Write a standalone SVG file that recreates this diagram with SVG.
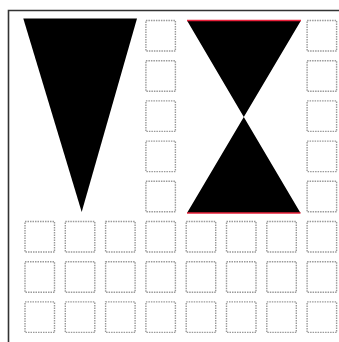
<svg xmlns="http://www.w3.org/2000/svg" width="339" height="342" viewBox="0 0 339 342">
<style>
.cell{fill:#fff;stroke:#999;stroke-width:1.4;stroke-dasharray:1.5,1}
.frame{fill:none;stroke:#333;stroke-width:1.6}
.shape{fill:#000;stroke:none}
.edge{stroke:#e8203a;stroke-width:1.6}
</style>
<rect width="339" height="342" fill="#fff"/>
<path class="frame" d="M8.5,342 V10.5 H339"/>
<g id="cells">
<rect class="cell" x="145.9" y="20.5" width="29.5" height="30.5"/>
<rect class="cell" x="145.9" y="60.7" width="29.5" height="30.5"/>
<rect class="cell" x="145.9" y="100.9" width="29.5" height="30.5"/>
<rect class="cell" x="145.9" y="141.1" width="29.5" height="30.5"/>
<rect class="cell" x="145.9" y="181.3" width="29.5" height="30.5"/>
<rect class="cell" x="307.1" y="20.5" width="29.5" height="30.5"/>
<rect class="cell" x="307.1" y="60.7" width="29.5" height="30.5"/>
<rect class="cell" x="307.1" y="100.9" width="29.5" height="30.5"/>
<rect class="cell" x="307.1" y="141.1" width="29.5" height="30.5"/>
<rect class="cell" x="307.1" y="181.3" width="29.5" height="30.5"/>
<rect class="cell" x="25" y="221.5" width="29.5" height="30.5"/>
<rect class="cell" x="65.3" y="221.5" width="29.5" height="30.5"/>
<rect class="cell" x="105.6" y="221.5" width="29.5" height="30.5"/>
<rect class="cell" x="145.9" y="221.5" width="29.5" height="30.5"/>
<rect class="cell" x="186.2" y="221.5" width="29.5" height="30.5"/>
<rect class="cell" x="226.5" y="221.5" width="29.5" height="30.5"/>
<rect class="cell" x="266.8" y="221.5" width="29.5" height="30.5"/>
<rect class="cell" x="307.1" y="221.5" width="29.5" height="30.5"/>
<rect class="cell" x="25" y="261.7" width="29.5" height="30.5"/>
<rect class="cell" x="65.3" y="261.7" width="29.5" height="30.5"/>
<rect class="cell" x="105.6" y="261.7" width="29.5" height="30.5"/>
<rect class="cell" x="145.9" y="261.7" width="29.5" height="30.5"/>
<rect class="cell" x="186.2" y="261.7" width="29.5" height="30.5"/>
<rect class="cell" x="226.5" y="261.7" width="29.5" height="30.5"/>
<rect class="cell" x="266.8" y="261.7" width="29.5" height="30.5"/>
<rect class="cell" x="307.1" y="261.7" width="29.5" height="30.5"/>
<rect class="cell" x="25" y="301.9" width="29.5" height="30.5"/>
<rect class="cell" x="65.3" y="301.9" width="29.5" height="30.5"/>
<rect class="cell" x="105.6" y="301.9" width="29.5" height="30.5"/>
<rect class="cell" x="145.9" y="301.9" width="29.5" height="30.5"/>
<rect class="cell" x="186.2" y="301.9" width="29.5" height="30.5"/>
<rect class="cell" x="226.5" y="301.9" width="29.5" height="30.5"/>
<rect class="cell" x="266.8" y="301.9" width="29.5" height="30.5"/>
<rect class="cell" x="307.1" y="301.9" width="29.5" height="30.5"/>
</g>
<g id="triangle">
<polygon class="shape" points="23.3,18.5 137,18.5 81.7,212"/>
</g>
<g id="hourglass">
<polygon class="shape" points="187,20.5 301,20.5 243.8,117 300.5,213 187,213 243.8,117"/>
<line class="edge" x1="187" y1="20.5" x2="301" y2="20.5"/>
<line class="edge" x1="187" y1="213" x2="300.5" y2="213"/>
</g>
</svg>
